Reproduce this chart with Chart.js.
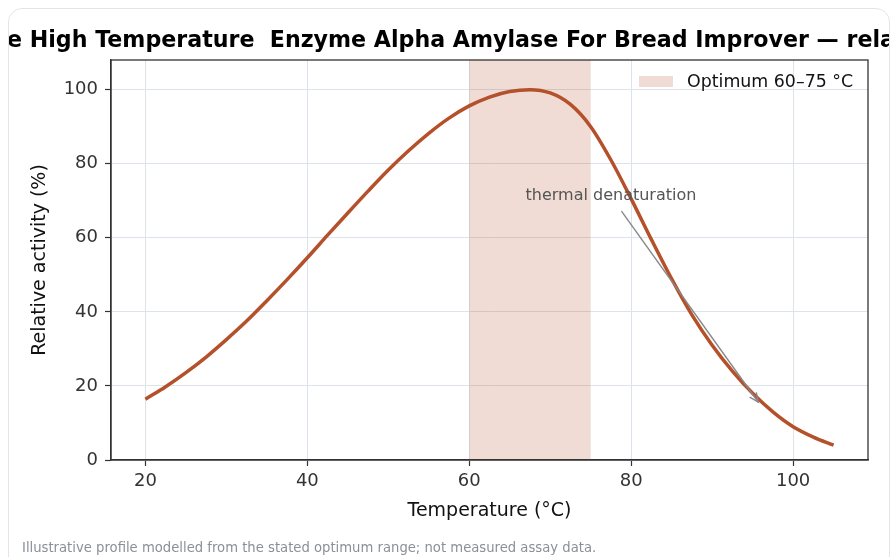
<!DOCTYPE html>
<html><head><meta charset="utf-8">
<script src="https://cdn.jsdelivr.net/npm/chart.js@4.4.1/dist/chart.umd.min.js"></script>
<style>
html,body{margin:0;padding:0;background:#fff;width:891px;height:557px;overflow:hidden;}
#wrap{position:relative;width:891px;height:557px;}
canvas{position:absolute;left:0;top:0;}
#card{position:absolute;left:8px;top:8px;width:880px;height:560px;border:1px solid #e1e5ea;border-radius:14px;pointer-events:none;}
#note{position:absolute;left:22px;top:540px;font:13.2px "DejaVu Sans",sans-serif;color:#8a9099;white-space:nowrap;}
</style></head>
<body><div id="wrap"><canvas id="c" width="891" height="557"></canvas><div id="card"></div><div id="note">Illustrative profile modelled from the stated optimum range; not measured assay data.</div></div>
<script>
// ---- data ----
const temperatures = [20,22.5,25,27.5,30,32.5,35,37.5,40,42.5,45,47.5,50,52.5,55,57.5,60,62.5,65,67.5,70,72.5,75,77.5,80,82.5,85,87.5,90,92.5,95,97.5,100,102.5,105];
const activity = [16.4,19.8,23.6,27.8,32.5,37.5,43.0,48.7,54.6,60.7,66.7,72.6,78.3,83.5,88.2,92.3,95.6,98.0,99.5,100,99.1,96.0,90.0,81.0,70.5,59.5,48.9,39.2,31.0,24.0,18.0,13.0,9.0,6.2,4.0];
const xTicks = [20,40,60,80,100];
const yTicks = [0,20,40,60,80,100];
const optimumRange = [60,75];
const legendLabel = 'Optimum 60–75 °C';
const annotationText = 'thermal denaturation';
const annotationTextAt = [77.5, 71.2];
const annotationArrowFrom = [78.8, 67.2];
const annotationArrowTo = [95.7, 15.6];
const titleHidden = 'Stabl';
const titleText = 'Stable High Temperature  Enzyme Alpha Amylase For Bread Improver — relative activity vs temperature';

const FONT = '"DejaVu Sans", sans-serif';
const LINE = '#b4502a';
const BAND = 'rgba(180,80,40,0.2)';

const decor = {
  id: 'decor',
  beforeDatasetsDraw(chart) {
    const {ctx, chartArea: a, scales: {x, y}} = chart;
    ctx.save();
    ctx.fillStyle = BAND;
    const x0 = x.getPixelForValue(optimumRange[0]), x1 = x.getPixelForValue(optimumRange[1]);
    ctx.fillRect(x0, a.top, x1 - x0, a.bottom - a.top);
    ctx.restore();
  },
  afterDatasetsDraw(chart) {
    const {ctx, chartArea: a, scales: {x, y}} = chart;
    ctx.save();
    // annotation arrow
    const fx = x.getPixelForValue(annotationArrowFrom[0]), fy = y.getPixelForValue(annotationArrowFrom[1]);
    const tx = x.getPixelForValue(annotationArrowTo[0]), ty = y.getPixelForValue(annotationArrowTo[1]);
    ctx.strokeStyle = '#888';
    ctx.lineWidth = 1.4;
    ctx.beginPath(); ctx.moveTo(fx, fy); ctx.lineTo(tx, ty); ctx.stroke();
    const ang = Math.atan2(ty - fy, tx - fx), hl = 10, hw = 0.42;
    ctx.beginPath();
    ctx.moveTo(tx - hl * Math.cos(ang - hw), ty - hl * Math.sin(ang - hw));
    ctx.lineTo(tx, ty);
    ctx.lineTo(tx - hl * Math.cos(ang + hw), ty - hl * Math.sin(ang + hw));
    ctx.stroke();
    ctx.fillStyle = '#555';
    ctx.font = '16px ' + FONT;
    ctx.textAlign = 'center'; ctx.textBaseline = 'middle';
    ctx.fillText(annotationText, x.getPixelForValue(annotationTextAt[0]), y.getPixelForValue(annotationTextAt[1]));
    // legend
    const lx = a.right - 229, ly = a.top + 16;
    ctx.fillStyle = BAND;
    ctx.fillRect(lx, ly, 34, 11);
    ctx.fillStyle = '#111';
    ctx.font = '17.4px ' + FONT;
    ctx.textAlign = 'left'; ctx.textBaseline = 'middle';
    ctx.fillText(legendLabel, lx + 48, ly + 6);
    // frame
    ctx.strokeStyle = '#333';
    ctx.lineWidth = 1.3;
    ctx.strokeRect(a.left, a.top, a.right - a.left, a.bottom - a.top);
    ctx.restore();
  },
  afterDraw(chart) {
    const {ctx} = chart;
    ctx.save();
    ctx.beginPath(); ctx.rect(9, 0, 880, 557); ctx.clip();
    ctx.font = 'bold 22.15px ' + FONT;
    ctx.fillStyle = '#000';
    ctx.textAlign = 'left'; ctx.textBaseline = 'alphabetic';
    ctx.fillText(titleText, 7 - ctx.measureText(titleHidden).width, 47);
    ctx.restore();
  }
};

new Chart(document.getElementById('c'), {
  type: 'line',
  data: {
    datasets: [{
      data: temperatures.map((t, i) => ({x: t, y: activity[i]})),
      borderColor: LINE,
      borderWidth: 3.5,
      pointRadius: 0,
      cubicInterpolationMode: 'monotone',
      fill: false
    }]
  },
  options: {
    responsive: false,
    animation: false,
    layout: {padding: {left: 0, right: 23, top: 60, bottom: 0}},
    plugins: {legend: {display: false}, title: {display: false}, tooltip: {enabled: false}},
    scales: {
      x: {
        type: 'linear', min: 15.75, max: 109.25,
        afterBuildTicks: s => { s.ticks = xTicks.map(v => ({value: v})); },
        afterFit: s => { s.height = 97; },
        grid: {color: '#dde3ea', lineWidth: 1, tickColor: '#333', tickLength: 6, tickWidth: 1.2},
        border: {display: true, color: '#333', width: 1.3},
        ticks: {font: {size: 18, family: FONT}, color: '#333', padding: 5, maxRotation: 0},
        title: {display: true, text: 'Temperature (°C)', font: {size: 19, family: FONT}, color: '#111', padding: {top: 0, bottom: 35}}
      },
      y: {
        type: 'linear', min: 0, max: 108,
        afterBuildTicks: s => { s.ticks = yTicks.map(v => ({value: v})); },
        afterFit: s => { s.width = 111; },
        grid: {color: '#dde3ea', lineWidth: 1, tickColor: '#333', tickLength: 6, tickWidth: 1.2},
        border: {display: true, color: '#333', width: 1.3},
        ticks: {font: {size: 18, family: FONT}, color: '#333', padding: 7},
        title: {display: true, text: 'Relative activity (%)', font: {size: 19, family: FONT}, color: '#111', padding: {top: 29, bottom: 0}}
      }
    }
  },
  plugins: [decor]
});
</script>
</body></html>
